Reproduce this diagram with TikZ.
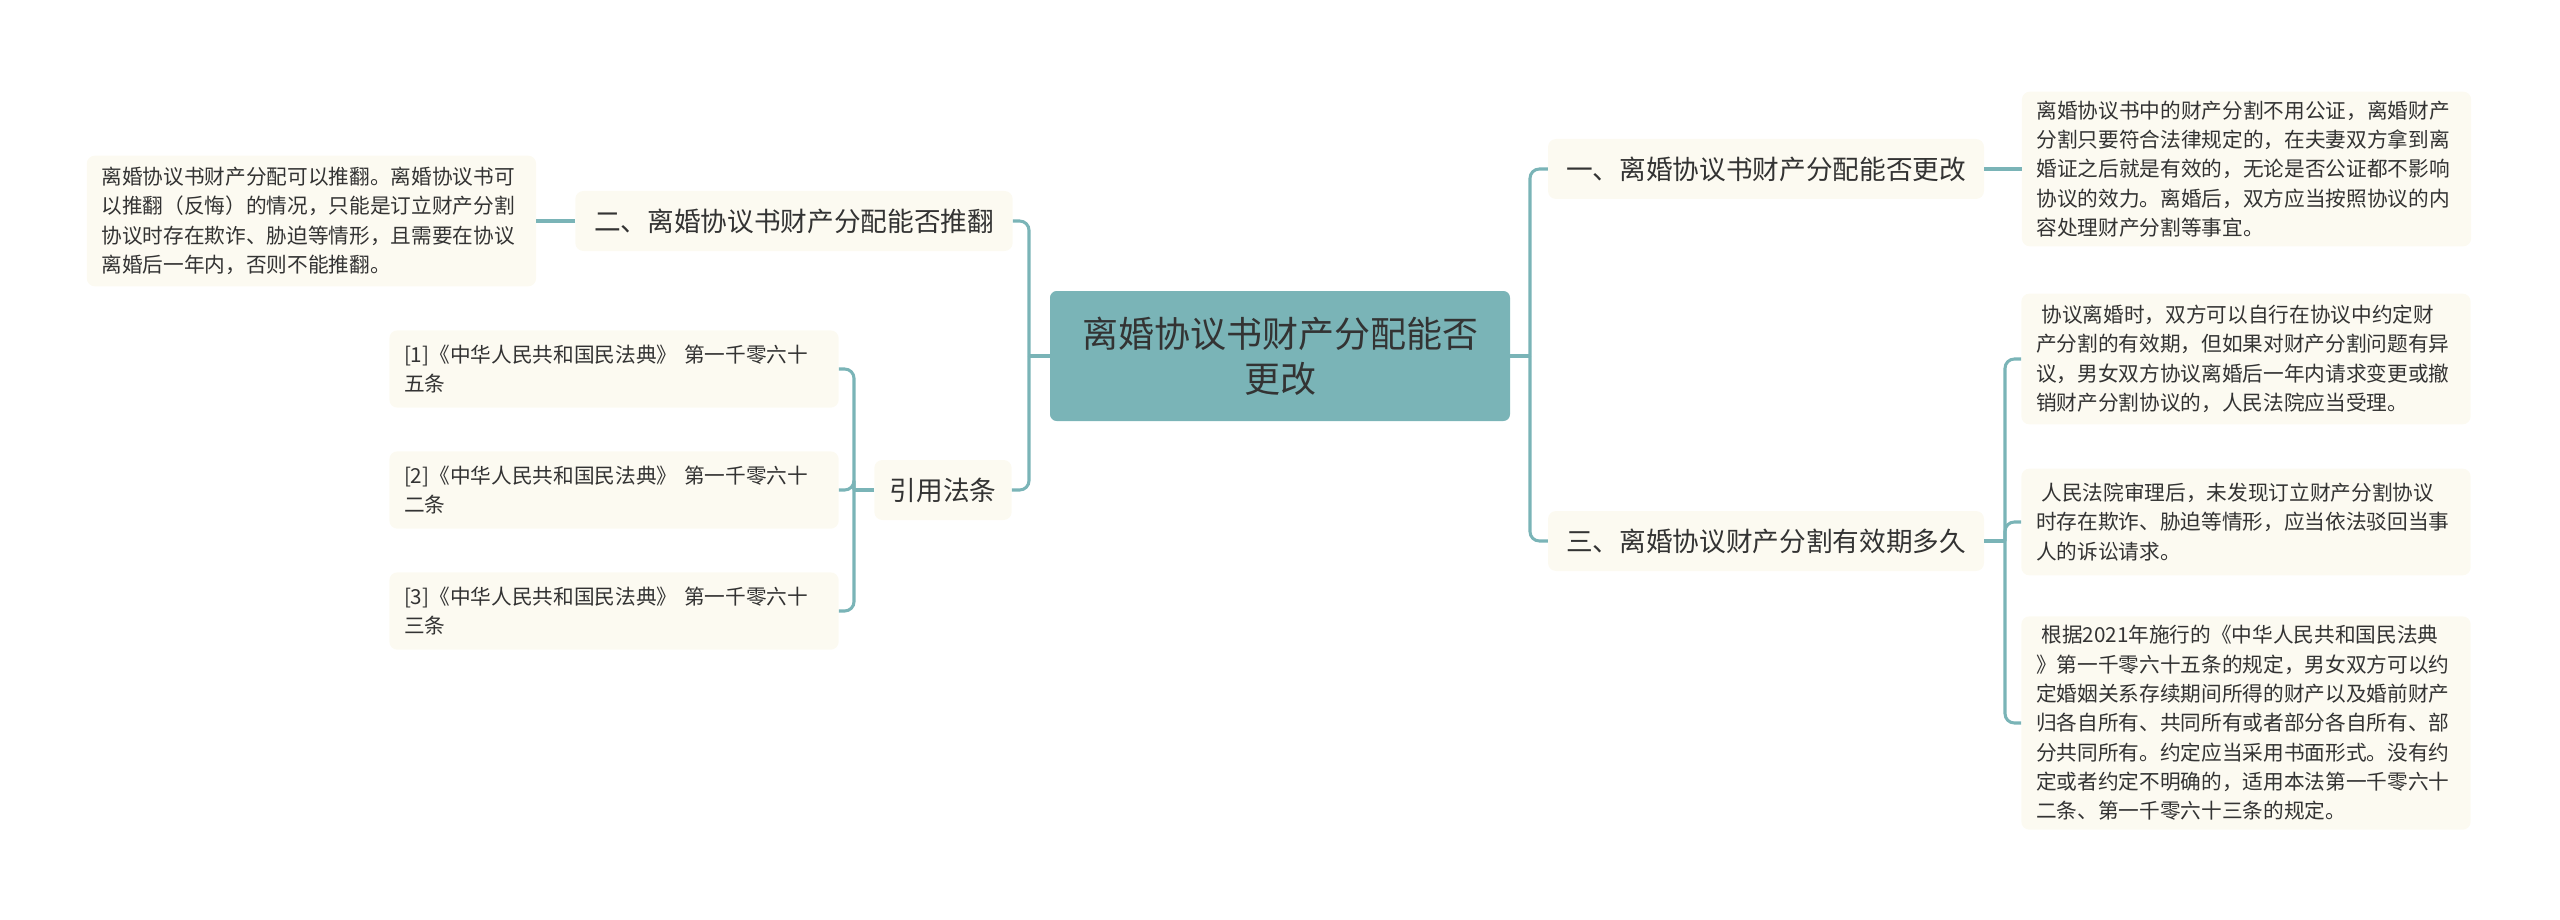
\documentclass[tikz,border=0pt]{standalone}
\usepackage{fontspec}
\setmainfont{Noto Sans CJK SC}
\usepackage{xcolor}
\usetikzlibrary{positioning}

\definecolor{teal}{HTML}{7AB4B7}
\definecolor{cream}{HTML}{FCFAF1}
\definecolor{ink}{HTML}{333333}

\begin{document}
\begin{tikzpicture}[
  x=0.75pt, y=-0.75pt,
  root/.style  = {fill=teal, rounded corners=5pt, align=center, text=ink,
                  minimum width=345pt, minimum height=97.5pt,
                  font=\fontsize{27}{34}\selectfont},
  topic/.style = {fill=cream, rounded corners=6pt, align=center, text=ink,
                  minimum height=45pt, inner xsep=7pt,
                  font=\fontsize{20}{24}\selectfont},
  leaf/.style  = {fill=cream, rounded corners=6pt, align=left, text=ink,
                  text width=315pt, inner xsep=11pt, inner ysep=6pt,
                  font=\fontsize{15.5}{22}\selectfont},
  link/.style  = {draw=teal, line width=2.3pt, rounded corners=7pt},
]
\useasboundingbox (0,0) rectangle (2560,920);

% ---- root ----
\node[root] (root) at (1280,356) {离婚协议书财产分配能否\\更改};

% ---- right side ----
\node[topic, minimum width=327pt] (t1) at (1766,169) {一、离婚协议书财产分配能否更改};
\node[leaf, minimum height=116pt, right=28pt of t1] (d1) {离婚协议书中的财产分割不用公证，离婚财产\\分割只要符合法律规定的，在夫妻双方拿到离\\婚证之后就是有效的，无论是否公证都不影响\\协议的效力。离婚后，双方应当按照协议的内\\容处理财产分割等事宜。};
\node[topic, minimum width=327pt] (t3) at (1766,541) {三、离婚协议财产分割有效期多久};
\node[leaf, minimum height=98pt] (d2) at (2246,359) {\hspace*{4pt}协议离婚时，双方可以自行在协议中约定财\\产分割的有效期，但如果对财产分割问题有异\\议，男女双方协议离婚后一年内请求变更或撤\\销财产分割协议的，人民法院应当受理。};
\node[leaf, minimum height=80pt] (d3) at (2246,522) {\hspace*{4pt}人民法院审理后，未发现订立财产分割协议\\时存在欺诈、胁迫等情形，应当依法驳回当事\\人的诉讼请求。};
\node[leaf, minimum height=160pt] (d4) at (2246,723) {\hspace*{4pt}根据2021年施行的《中华人民共和国民法典\\》第一千零六十五条的规定，男女双方可以约\\定婚姻关系存续期间所得的财产以及婚前财产\\归各自所有、共同所有或者部分各自所有、部\\分共同所有。约定应当采用书面形式。没有约\\定或者约定不明确的，适用本法第一千零六十\\二条、第一千零六十三条的规定。};

% ---- left side ----
\node[topic, minimum width=328pt] (t2) at (794,221) {二、离婚协议书财产分配能否推翻};
\node[leaf, minimum height=98pt, left=29pt of t2] (d0) {离婚协议书财产分配可以推翻。离婚协议书可\\以推翻（反悔）的情况，只能是订立财产分割\\协议时存在欺诈、胁迫等情形，且需要在协议\\离婚后一年内，否则不能推翻。};
\node[topic, minimum width=103pt] (t4) at (943,490) {引用法条};
\node[leaf, minimum height=58pt] (r1) at (614,369) {[1]《中华人民共和国民法典》 第一千零六十\\五条};
\node[leaf, minimum height=58pt] (r2) at (614,490) {[2]《中华人民共和国民法典》 第一千零六十\\二条};
\node[leaf, minimum height=58pt] (r3) at (614,611) {[3]《中华人民共和国民法典》 第一千零六十\\三条};

% ---- junctions ----
\coordinate (jR)  at (1530,356);
\coordinate (jR3) at (2005,541);
\coordinate (jL)  at (1029,356);
\coordinate (jL4) at (854,490);

% ---- links ----
\draw[link] (root.east) -- (jR);
\draw[link] (jR) |- (t1.west);
\draw[link] (jR) |- (t3.west);
\draw[link] (t1.east) -- (d1.west);
\draw[link] (t3.east) -- (jR3);
\draw[link] (jR3) |- (d2.west);
\draw[link] (jR3) |- (d3.west);
\draw[link] (jR3) |- (d4.west);

\draw[link] (root.west) -- (jL);
\draw[link] (jL) |- (t2.east);
\draw[link] (jL) |- (t4.east);
\draw[link] (t2.west) -- (d0.east);
\draw[link] (t4.west) -- (jL4);
\draw[link] (jL4) |- (r1.east);
\draw[link] (jL4) |- (r2.east);
\draw[link] (jL4) |- (r3.east);

\end{tikzpicture}
\end{document}
